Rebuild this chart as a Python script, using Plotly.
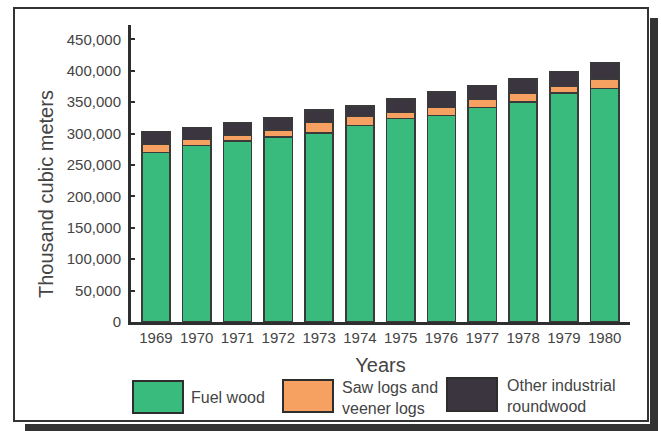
import plotly.graph_objects as go

# Roundwood production, thousand cubic meters
years = ["1969", "1970", "1971", "1972", "1973", "1974",
         "1975", "1976", "1977", "1978", "1979", "1980"]
fuel_wood = [270000, 281000, 288000, 295000, 301000, 313000,
             324000, 329000, 342000, 350000, 365000, 372000]
saw_veneer_logs = [13000, 10000, 10000, 11000, 17000, 14000,
                   10000, 13000, 12000, 14000, 10000, 15000]
other_industrial = [20000, 19000, 19000, 20000, 20000, 17000,
                    21000, 24000, 23000, 24000, 24000, 26000]

series_names = ["Fuel wood", "Saw logs and<br>veener logs", "Other industrial<br>roundwood"]
series_colors = ["#38bb7c", "#f6a061", "#3b3540"]
y_ticks = [0, 50000, 100000, 150000, 200000, 250000, 300000, 350000, 400000, 450000]

W, H = 661, 431
L, R, T, B = 131, 31, 25, 109
PW, PH = W - L - R, H - T - B

def px(x):
    return (x - L) / PW

def py(y):
    return (H - B - y) / PH

edge = "#3a3a3a"
text_color = "#444444"
fig = go.Figure()
for vals, name, color in zip([fuel_wood, saw_veneer_logs, other_industrial],
                             series_names, series_colors):
    fig.add_trace(go.Bar(
        x=years, y=vals, name=name.replace("<br>", " "),
        marker=dict(color=color, line=dict(color=edge, width=1.5)),
        showlegend=False,
    ))

shapes = []
# outer frame with drop shadow
shapes.append(dict(type="rect", xref="paper", yref="paper",
                   x0=px(650), x1=px(658), y0=py(431), y1=py(18),
                   fillcolor="#333333", line=dict(width=0), layer="below"))
shapes.append(dict(type="rect", xref="paper", yref="paper",
                   x0=px(25), x1=px(658), y0=py(431), y1=py(424),
                   fillcolor="#333333", line=dict(width=0), layer="below"))
shapes.append(dict(type="rect", xref="paper", yref="paper",
                   x0=px(14), x1=px(648), y0=py(421), y1=py(8),
                   fillcolor="rgba(0,0,0,0)", line=dict(color="#333333", width=2)))

# legend swatches and labels
legend_boxes = [(133, 183, 381, 413), (283, 333, 380, 412), (447, 497, 378, 411)]
legend_text_x = [189, 340, 505]
legend_text_y = [397, 398, 396]
annotations = []
for (x0, x1, y0, y1), color, name, tx, ty in zip(legend_boxes, series_colors,
                                                 series_names, legend_text_x, legend_text_y):
    shapes.append(dict(type="rect", xref="paper", yref="paper",
                       x0=px(x0), x1=px(x1), y0=py(y1), y1=py(y0),
                       fillcolor=color, line=dict(color="#2e2e2e", width=2)))
    annotations.append(dict(xref="paper", yref="paper", x=px(tx), y=py(ty),
                            xanchor="left", yanchor="middle", align="left",
                            text=name, showarrow=False,
                            font=dict(size=16, color=text_color)))

# vertical axis title
annotations.append(dict(xref="paper", yref="paper", x=px(46), y=py(194),
                        xanchor="center", yanchor="middle", textangle=-90,
                        text="Thousand cubic meters", showarrow=False,
                        font=dict(size=20, color=text_color)))

fig.update_layout(
    width=W, height=H,
    margin=dict(l=L, r=R, t=T, b=B, pad=0),
    paper_bgcolor="white", plot_bgcolor="white",
    barmode="stack", bargap=0.31,
    font=dict(family="Liberation Sans, Arial, sans-serif", color=text_color),
    shapes=shapes, annotations=annotations,
    xaxis=dict(
        type="category", range=[-0.61, 11.62],
        showline=True, linecolor="#2e2e2e", linewidth=3,
        ticks="", showgrid=False, zeroline=False,
        tickfont=dict(size=15, color=text_color),
        title=dict(text="Years", font=dict(size=20, color=text_color), standoff=13),
    ),
    yaxis=dict(
        range=[0, 473000], tickvals=y_ticks,
        tickformat=",d",
        showline=True, linecolor="#2e2e2e", linewidth=3,
        ticks="inside", ticklen=4, tickwidth=2, tickcolor="#2e2e2e",
        showgrid=False, zeroline=False,
        tickfont=dict(size=15, color=text_color),
        ticklabelstandoff=4,
    ),
)

fig.write_html("out.html")
